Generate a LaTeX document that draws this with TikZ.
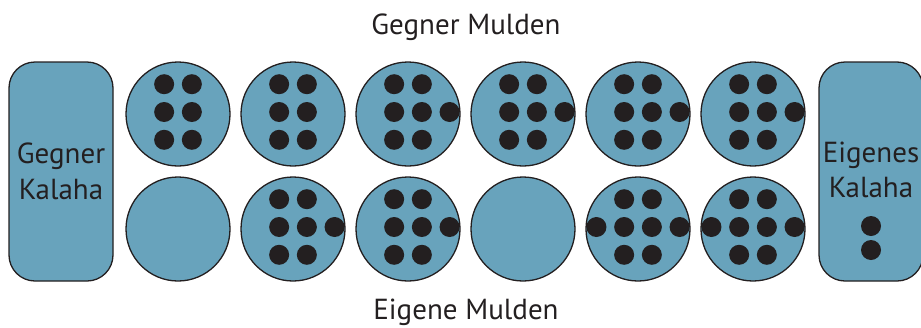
\documentclass[tikz,border=0pt]{standalone}
\usepackage{fontspec}
\setmainfont{PT Sans}
\usepackage{tikz}
\usetikzlibrary{calc}
\definecolor{mulde}{HTML}{68A3BC}
\definecolor{stein}{HTML}{231F20}
\tikzset{
	grube/.style={draw=stein, line width=1.3pt, fill=mulde},
	beschriftung/.style={anchor=base, text=stein, inner sep=0pt, font=\fontsize{29}{34}\selectfont},
}
\def\steine(#1)(#2){\foreach \dx/\dy in {#2} {\fill[stein] ($(#1)+(\dx*27.7,\dy*27.8-2)$) circle (10);}}

\begin{document}
\begin{tikzpicture}[x=1pt, y=-1pt]
		%%%%% START %%%%%
		\useasboundingbox (0, 0) rectangle (921, 327);
		
		\node[beschriftung] (gegnermulden) at (466, 34) {Gegner Mulden};
		\node[beschriftung] (eigenemulden) at (466, 319) {Eigene Mulden};
		
		\draw[grube, rounded corners=26pt] (9, 62) rectangle (113, 281);
		\draw[grube, rounded corners=26pt] (819, 62) rectangle (923, 281);
		
		\node[beschriftung] (gegner) at (61, 163) {Gegner};
		\node[beschriftung] (gegnerkalaha) at (61, 199) {Kalaha};
		\node[beschriftung] (eigenes) at (871, 162) {Eigenes};
		\node[beschriftung] (eigeneskalaha) at (871, 197) {Kalaha};
		
		\foreach \x in {178, 293, 408, 523, 638, 753} {
			\draw[grube] (\x, 114) circle (52);
			\draw[grube] (\x, 229) circle (52);
		}
		
		% oben
		\steine(178, 114)(-0.5/-1, 0.5/-1, -0.5/0, 0.5/0, -0.5/1, 0.5/1)
		\steine(293, 114)(-0.5/-1, 0.5/-1, -0.5/0, 0.5/0, -0.5/1, 0.5/1)
		\steine(408, 114)(-0.5/-1, 0.5/-1, -0.5/0, 0.5/0, 1.5/0, -0.5/1, 0.5/1)
		\steine(523, 114)(-0.5/-1, 0.5/-1, -0.5/0, 0.5/0, 1.5/0, -0.5/1, 0.5/1)
		\steine(638, 114)(-0.5/-1, 0.5/-1, -0.5/0, 0.5/0, 1.5/0, -0.5/1, 0.5/1)
		\steine(753, 114)(-0.5/-1, 0.5/-1, -0.5/0, 0.5/0, 1.5/0, -0.5/1, 0.5/1)
		
		% unten
		\steine(293, 229)(-0.5/-1, 0.5/-1, -0.5/0, 0.5/0, 1.5/0, -0.5/1, 0.5/1)
		\steine(408, 229)(-0.5/-1, 0.5/-1, -0.5/0, 0.5/0, 1.5/0, -0.5/1, 0.5/1)
		\steine(638, 229)(-0.5/-1, 0.5/-1, -1.5/0, -0.5/0, 0.5/0, 1.5/0, -0.5/1, 0.5/1)
		\steine(753, 229)(-0.5/-1, 0.5/-1, -1.5/0, -0.5/0, 0.5/0, 1.5/0, -0.5/1, 0.5/1)
		
		% kalaha
		\fill[stein] (871, 226) circle (10);
		\fill[stein] (871, 250) circle (10);
		%%%%% END %%%%%
	\end{tikzpicture}
\end{document}
